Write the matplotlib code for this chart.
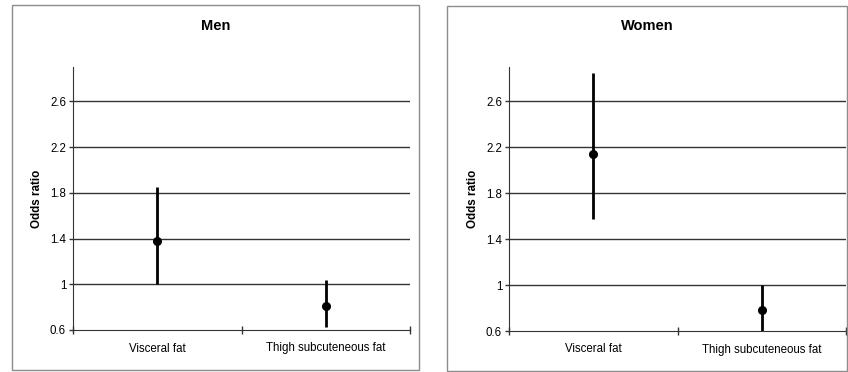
import matplotlib.pyplot as plt
from matplotlib.patches import Rectangle
from matplotlib.ticker import FormatStrFormatter

plt.rcParams['font.family'] = ['Liberation Sans', 'DejaVu Sans']

categories = ['Visceral fat', 'Thigh subcuteneous fat']
panels = ['Men', 'Women']
odds = {'Men': [1.38, 0.81], 'Women': [2.14, 0.78]}
lower = {'Men': [1.00, 0.63], 'Women': [1.58, 0.60]}
upper = {'Men': [1.85, 1.04], 'Women': [2.85, 1.00]}
yticks = [0.6, 1.0, 1.4, 1.8, 2.2, 2.6]

W, H = 848, 372
fig = plt.figure(figsize=(W / 100, H / 100), dpi=100)

# panel frames and axes in pixel coords (left, top, right, bottom)
frames = [(12, 5, 419, 370), (447, 6, 847, 371)]
axboxes = [(73, 67, 410, 330), (509, 67, 846, 331)]

for name, fr, ab in zip(panels, frames, axboxes):
    fig.patches.append(Rectangle((fr[0] / W, 1 - fr[3] / H), (fr[2] - fr[0]) / W,
                                 (fr[3] - fr[1]) / H, transform=fig.transFigure,
                                 fill=False, edgecolor='#8c8c8c', lw=1))
    ax = fig.add_axes([ab[0] / W, 1 - ab[3] / H, (ab[2] - ab[0]) / W, (ab[3] - ab[1]) / H])
    ax.set_xlim(0, 2)
    ax.set_ylim(0.6, 2.9)
    ax.set_yticks(yticks)
    ax.yaxis.set_major_formatter(FormatStrFormatter('%g'))
    ax.set_xticks([0, 1, 2])
    ax.set_xticklabels([])
    ax.set_xticks([0.5, 1.5], minor=True)
    ax.set_xticklabels(categories, minor=True)
    ax.tick_params(axis='x', which='minor', length=0, pad=9, labelsize=8.3)
    ax.tick_params(axis='x', which='major', direction='inout', length=6, width=1, color='#333333')
    ax.tick_params(axis='y', direction='out', length=3, width=1, color='#333333', labelsize=8.3, pad=2)
    for s in ['top', 'right']:
        ax.spines[s].set_visible(False)
    ax.spines['left'].set_color('#333333')
    ax.spines['bottom'].set_color('#333333')
    for y in yticks[1:]:
        ax.axhline(y, color='#333333', lw=1, zorder=1)

    xs = [0.5, 1.5]
    ax.vlines(xs, lower[name], upper[name], color='black', lw=2, zorder=3)
    ax.plot(xs, odds[name], 'o', color='black', ms=5.5, zorder=4)
    ax.set_ylabel('Odds ratio', fontsize=8.4, fontweight='bold', labelpad=5)

    fig.text((fr[0] + fr[2]) / 2 / W, 1 - 26 / H, name, ha='center', va='center',
             fontsize=10.5, fontweight='bold')

fig.savefig('out.png', dpi=100)
